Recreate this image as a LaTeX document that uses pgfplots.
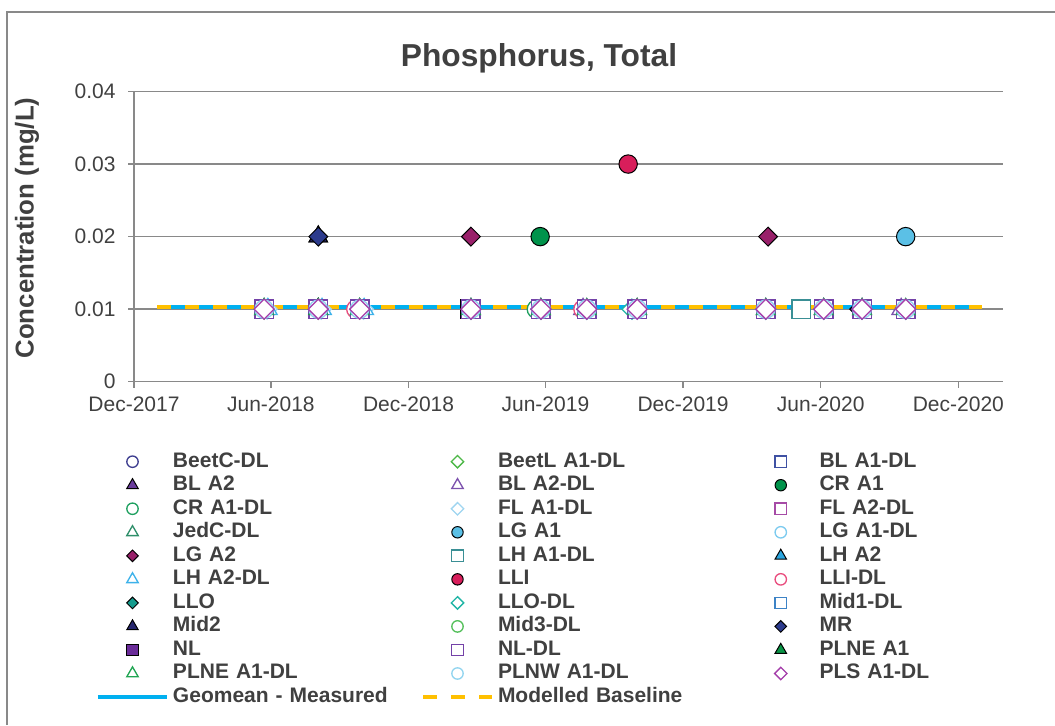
\documentclass[border=0pt]{standalone}
\usepackage{fontspec}
\setmainfont{Liberation Sans}
\usepackage{pgfplots}
\pgfplotsset{compat=1.18}

\definecolor{txt}{HTML}{404040}
\definecolor{axgray}{HTML}{898989}
\definecolor{geo}{HTML}{00B0F0}
\definecolor{basec}{HTML}{FFC000}
\definecolor{cBeetC}{HTML}{3D3D8F}
\definecolor{cBeetL}{HTML}{4DB848}
\definecolor{cBLAone}{HTML}{3F51A3}
\definecolor{cBLAtwo}{HTML}{6A3C9C}
\definecolor{cBLAtwoDL}{HTML}{7D52AE}
\definecolor{cCRA}{HTML}{00934B}
\definecolor{cCRADL}{HTML}{1FA060}
\definecolor{cFLAone}{HTML}{9FD5F0}
\definecolor{cFLAtwo}{HTML}{A64BA6}
\definecolor{cJedC}{HTML}{2F8F6A}
\definecolor{cLGAone}{HTML}{5BC0E6}
\definecolor{cLGAoneDL}{HTML}{7DCBEF}
\definecolor{cLGAtwo}{HTML}{99206A}
\definecolor{cLHAone}{HTML}{3A8F95}
\definecolor{cLHAtwo}{HTML}{2BA6E0}
\definecolor{cLHAtwoDL}{HTML}{3DB2EA}
\definecolor{cLLI}{HTML}{D81E5B}
\definecolor{cLLIDL}{HTML}{E94D7E}
\definecolor{cLLO}{HTML}{169C8E}
\definecolor{cLLODL}{HTML}{1FB5A5}
\definecolor{cMidone}{HTML}{3D83C6}
\definecolor{cMidtwo}{HTML}{26266E}
\definecolor{cMidthree}{HTML}{55C05C}
\definecolor{cMR}{HTML}{2C3B8D}
\definecolor{cNL}{HTML}{6A2C99}
\definecolor{cNLDL}{HTML}{7442A8}
\definecolor{cPLNE}{HTML}{0A9446}
\definecolor{cPLNEDL}{HTML}{20A552}
\definecolor{cPLNW}{HTML}{91D4EF}
\definecolor{cPLS}{HTML}{A43DAA}

\newcommand\tickfont{\fontsize{15.75bp}{18bp}\selectfont}
\newcommand\legfont{\fontsize{15.75bp}{18bp}\selectfont\bfseries}

\pgfplotsset{
  hcirc/.style={only marks, mark=*, mark size=6.9bp, mark options={draw=#1, fill=white, line width=1bp}},
  fcirc/.style={only marks, mark=*, mark size=6.9bp, mark options={draw=black, fill=#1, line width=0.75bp}},
  hsq/.style={only marks, mark=square*, mark size=6.9bp, mark options={draw=#1, fill=white, line width=1bp}},
  fsq/.style={only marks, mark=square*, mark size=6.9bp, mark options={draw=black, fill=#1, line width=0.75bp}},
  hdia/.style={only marks, mark=square*, mark size=5.3bp, mark options={rotate=45, draw=#1, fill=white, line width=1bp}},
  fdia/.style={only marks, mark=square*, mark size=5bp, mark options={rotate=45, draw=black, fill=#1, line width=0.75bp}},
  htri/.style={only marks, mark=triangle*, mark size=8bp, mark options={draw=#1, fill=white, line width=1bp}},
  ftri/.style={only marks, mark=triangle*, mark size=8bp, mark options={draw=black, fill=#1, line width=0.75bp}},
}

\begin{document}
\begin{tikzpicture}
\useasboundingbox (0,0) rectangle ({1055*0.75bp},{-725*0.75bp});
\draw[axgray, line width=1.1bp] ({7*0.75bp},{-725*0.75bp}) -- ({7*0.75bp},{-12*0.75bp}) -- ({1055*0.75bp},{-12*0.75bp});
\node[anchor=base, text=txt, font=\fontsize{23.8bp}{28bp}\selectfont\bfseries, inner sep=0pt] at ({539*0.75bp},{-66*0.75bp}) {Phosphorus, Total};
\node[rotate=90, anchor=center, text=txt, font=\fontsize{19.35bp}{22bp}\selectfont\bfseries, inner sep=0pt] at ({27*0.75bp},{-228*0.75bp}) {Concentration (mg/L)};
\begin{axis}[
  at={({134*0.75bp},{-381.7*0.75bp})}, anchor=south west,
  scale only axis, width=651.75bp, height=217.65bp,
  xmin=0, xmax=1155.4, ymin=0, ymax=0.04,
  axis lines*=left,
  axis line style={axgray, line width=1.1bp},
  ymajorgrids, grid style={axgray, line width=1.1bp},
  tick align=outside, major tick length=4.5bp,
  tick style={axgray, line width=1.1bp},
  xtick={0,182,365,547,730,913,1096},
  xticklabels={Dec-2017,Jun-2018,Dec-2018,Jun-2019,Dec-2019,Jun-2020,Dec-2020},
  ytick={0,0.01,0.02,0.03,0.04},
  yticklabels={0,0.01,0.02,0.03,0.04},
  scaled y ticks=false, scaled x ticks=false,
  tick label style={font=\tickfont, text=txt},
  xticklabel style={inner sep=0pt, anchor=north, yshift=-7bp},
  yticklabel style={inner sep=0pt, anchor=east, xshift=-9.2bp},
  legend columns=3,
  legend cell align=left,
  legend style={at={(-0.04373,-0.2388)}, anchor=north west, draw=none, fill=none,
    inner sep=0pt, outer sep=0pt, column sep=3bp, row sep=1.65bp,
    font=\legfont, text=txt,
    nodes={inner sep=0pt, text width=183bp, align=left, text height=12bp, text depth=4bp}},
  legend image code/.code={
    \path (0bp,0bp) (51.75bp,0bp);
    \draw[mark repeat=2, mark phase=2, #1, every mark/.append style={scale=0.62}]
      plot coordinates {(0bp,0bp) (25.875bp,0bp) (51.75bp,0bp)};
  },
]
% lines drawn first (behind markers)
\addplot[forget plot, geo, line width=3bp] coordinates {(31,0.0103) (1127,0.0103)};
\addplot[forget plot, basec, line width=3bp, dash pattern=on 10.5bp off 10.5bp] coordinates {(31,0.0103) (1127,0.0103)};

\addplot[hcirc=cBeetC] coordinates {(173,0.01) (245,0.01) (300,0.01)};
\addlegendentry{BeetC-DL}
\addplot[hdia=cBeetL] coordinates {(173,0.01) (245,0.01) (300,0.01) (448,0.01) (541,0.01)};
\addlegendentry{BeetL A1-DL}
\addplot[hsq=cBLAone] coordinates {(173,0.01) (245,0.01) (300,0.01) (448,0.01) (541,0.01) (602,0.01) (669,0.01) (840,0.01) (917,0.01) (968,0.01) (1026,0.01)};
\addlegendentry{BL A1-DL}
\addplot[ftri=cBLAtwo] coordinates {(245,0.02)};
\addlegendentry{BL A2}
\addplot[htri=cBLAtwoDL] coordinates {(448,0.01) (541,0.01) (597,0.01) (840,0.01) (917,0.01) (968,0.01) (1020,0.01)};
\addlegendentry{BL A2-DL}
\addplot[fcirc=cCRA] coordinates {(540,0.02)};
\addlegendentry{CR A1}
\addplot[hcirc=cCRADL] coordinates {(173,0.01) (245,0.01) (300,0.01) (535,0.01) (602,0.01) (669,0.01)};
\addlegendentry{CR A1-DL}
\addplot[hdia=cFLAone] coordinates {(177,0.01) (249,0.01) (305,0.01) (448,0.01) (541,0.01) (602,0.01) (669,0.01) (840,0.01) (917,0.01) (968,0.01) (1026,0.01)};
\addlegendentry{FL A1-DL}
\addplot[hsq=cFLAtwo] coordinates {(173,0.01) (245,0.01) (300,0.01) (448,0.01) (541,0.01) (602,0.01) (669,0.01) (840,0.01) (917,0.01) (968,0.01) (1026,0.01)};
\addlegendentry{FL A2-DL}
\addplot[htri=cJedC] coordinates {(173,0.01) (245,0.01) (300,0.01)};
\addlegendentry{JedC-DL}
\addplot[fcirc=cLGAone] coordinates {(1026,0.02)};
\addlegendentry{LG A1}
\addplot[hcirc=cLGAoneDL] coordinates {(448,0.01) (541,0.01) (602,0.01) (669,0.01) (840,0.01) (917,0.01) (968,0.01)};
\addlegendentry{LG A1-DL}
\addplot[fdia=cLGAtwo] coordinates {(448,0.02) (843,0.02)};
\addlegendentry{LG A2}
\addplot[hsq=cLHAone] coordinates {(887,0.01)};
\addlegendentry{LH A1-DL}
\addplot[ftri=cLHAtwo] coordinates {(669,0.01)};
\addlegendentry{LH A2}
\addplot[htri=cLHAtwoDL] coordinates {(178,0.01) (250,0.01) (306,0.01)};
\addlegendentry{LH A2-DL}
\addplot[fcirc=cLLI] coordinates {(657,0.03)};
\addlegendentry{LLI}
\addplot[hcirc=cLLIDL] coordinates {(295,0.01) (597,0.01)};
\addlegendentry{LLI-DL}
\addplot[fdia=cLLO] coordinates {(541,0.01)};
\addlegendentry{LLO}
\addplot[hdia=cLLODL] coordinates {(448,0.01) (541,0.01) (602,0.01) (662,0.01) (840,0.01) (917,0.01) (968,0.01) (1026,0.01)};
\addlegendentry{LLO-DL}
\addplot[hsq=cMidone] coordinates {(173,0.01) (245,0.01) (300,0.01) (448,0.01) (541,0.01) (602,0.01) (669,0.01) (840,0.01) (917,0.01) (968,0.01) (1026,0.01)};
\addlegendentry{Mid1-DL}
\addplot[ftri=cMidtwo] coordinates {(245,0.02) (245,0.01)};
\addlegendentry{Mid2}
\addplot[hcirc=cMidthree] coordinates {(173,0.01) (245,0.01) (300,0.01) (448,0.01) (541,0.01) (602,0.01) (669,0.01) (840,0.01) (917,0.01) (968,0.01) (1026,0.01)};
\addlegendentry{Mid3-DL}
\addplot[fdia=cMR] coordinates {(245,0.02) (964,0.01)};
\addlegendentry{MR}
\addplot[fsq=cNL] coordinates {(446,0.01)};
\addlegendentry{NL}
\addplot[hsq=cNLDL] coordinates {(173,0.01) (245,0.01) (300,0.01) (448,0.01) (541,0.01) (602,0.01) (669,0.01) (840,0.01) (917,0.01) (968,0.01) (1026,0.01)};
\addlegendentry{NL-DL}
\addplot[ftri=cPLNE] coordinates {(245,0.01)};
\addlegendentry{PLNE A1}
\addplot[htri=cPLNEDL] coordinates {(173,0.01) (245,0.01) (300,0.01) (448,0.01) (541,0.01) (602,0.01) (669,0.01) (840,0.01) (917,0.01) (968,0.01) (1026,0.01)};
\addlegendentry{PLNE A1-DL}
\addplot[hcirc=cPLNW] coordinates {(173,0.01) (245,0.01) (300,0.01) (448,0.01) (541,0.01) (602,0.01) (669,0.01) (840,0.01) (917,0.01) (968,0.01) (1026,0.01)};
\addlegendentry{PLNW A1-DL}
\addplot[hdia=cPLS] coordinates {(173,0.01) (245,0.01) (300,0.01) (448,0.01) (541,0.01) (602,0.01) (669,0.01) (840,0.01) (917,0.01) (968,0.01) (1026,0.01)};
\addlegendentry{PLS A1-DL}

\addlegendimage{geo, line width=3bp}
\addlegendentry{Geomean - Measured}
\addlegendimage{basec, line width=3bp, dash pattern=on 10.5bp off 10.5bp}
\addlegendentry{Modelled Baseline}
\end{axis}
\end{tikzpicture}
\end{document}
